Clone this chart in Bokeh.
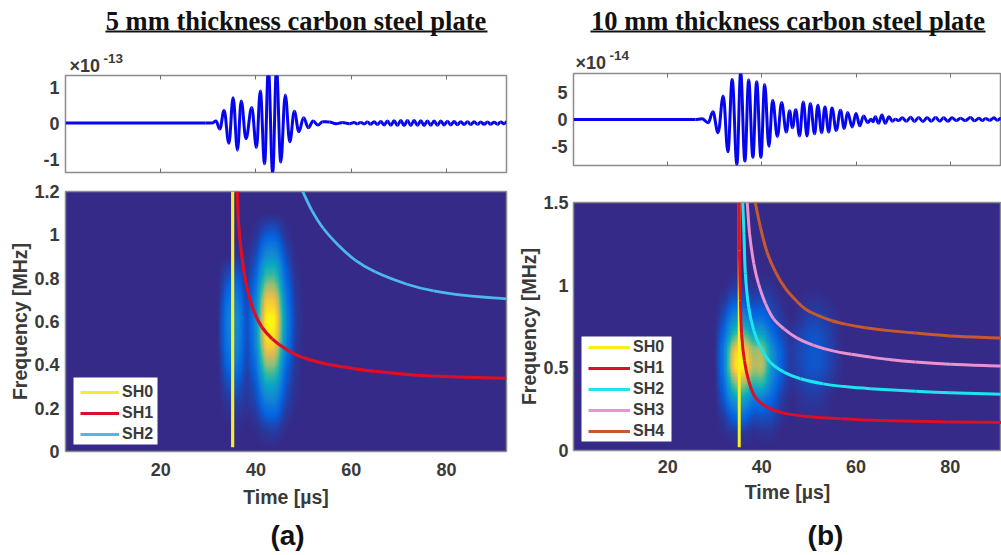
from bokeh.plotting import figure
from bokeh.layouts import row, column
from bokeh.models import (LinearAxis, FixedTicker, Range1d, LinearColorMapper, Legend, LegendItem)
from bokeh.core.properties import value
from bokeh.embed import file_html
from bokeh.resources import INLINE
import numpy as np

# ---------- data ----------
XMAX_A = 92.6
XMAX_B = 90.9

titles = ["5 mm thickness carbon steel plate", "10 mm thickness carbon steel plate"]
exponents = ["-13", "-14"]
tags = ["(a)", "(b)"]

# waveforms: the successive crests and troughs
wave_a_t = [0, 29.35, 30.75, 31.6, 32.4, 33.3, 34.3, 35.2, 36.1, 36.9, 37.9, 39.1, 40.1, 40.9, 41.8, 42.6, 43.5,
            44.3, 45.2, 46.15, 47.1, 48.05, 49.0, 50.0, 51.0, 52.0, 53.0, 54.0,
            55.4, 56.8, 58.2, 59.6, 60.6, 61.3, 62.0, 62.7, 63.4, 64.1, 64.8, 65.5, 66.2, 66.9, 67.6, 68.3, 69.0,
            69.7, 70.4, 71.1, 71.8, 72.5, 73.2, 73.9, 74.6, 75.3, 76.0, 76.7, 77.4, 78.1, 78.8, 79.5, 80.2, 80.9,
            81.6, 82.3, 83.0, 83.7, 84.4, 85.1, 85.8, 86.5, 87.2, 87.9, 88.6, 89.3, 90.0, 90.7, 91.4, 92.1, 92.6]
wave_a_v = [0, 0, 0, .055, -.165, .35, -.56, .70, -.75, .61, -.43, .43, -.68, .89, -1.13, 1.5, -1.38,
            1.5, -1.08, .78, -.52, .33, -.24, .15, -.13, .055, -.055, .04,
            .03, -.02, .015, -.015, .015, -.02, .02, -.025, .03, -.03, .035, -.04, .045, -.05, .055, -.06, .065,
            -.065, .07, -.07, .07, -.065, .07, -.06, .065, -.065, .06, -.06, .055, -.06, .055, -.05, .05, -.05,
            .045, -.045, .04, -.04, .035, -.04, .035, -.035, .03, -.03, .03, -.03, .025, -.03, .03, -.02, .03]

wave_b_t = [0, 25.9, 27.3, 28.6, 29.6, 30.7, 31.8, 32.8, 33.7, 34.7, 35.5, 36.4, 37.2, 38.1, 38.9, 39.8, 40.6, 41.5,
            42.3, 43.3, 44.2, 45.2, 45.9, 46.5, 47.2, 48.0, 48.8, 49.6, 50.3, 51.2, 51.9, 52.7, 53.4, 54.2, 54.9,
            55.8, 56.7, 57.5, 58.2, 59.2, 60.0, 60.8, 61.6, 62.5, 63.2, 63.6, 64.1, 64.8, 65.5, 66.2, 67.0, 67.7,
            68.4, 69.1, 69.8, 70.7, 71.6, 72.4, 73.3, 74.2, 75.1, 76.0, 76.9, 77.8, 78.6, 79.5, 80.4, 81.3, 82.2,
            83.2, 84.3, 85.2, 86.1, 86.8, 87.5, 88.4, 89.3, 90.0, 90.7, 90.9]
wave_b_v = [0, 0, .12, -.6, 1.4, -2.4, 4.3, -5.9, 7.3, -8.2, 8.6, -7.6, 7.2, -6.9, 6.9, -6.9, 6.4, -4.9,
            3.5, -3.1, 3.1, -2.3, 1.6, -1.5, 1.8, -3.0, 3.2, -3.0, 2.9, -2.6, 2.6, -2.4, 2.3, -2.3, 2.1,
            -2.0, 1.7, -1.65, 1.3, -1.35, 1.1, -1.15, .65, -.55, .05, -.4, .5, -.7, .8, -.7, .5, -.3,
            .05, -.2, .3, -.3, .4, -.35, .35, -.35, .3, -.3, .35, -.3, .3, -.3, .3, -.2, .25,
            -.2, .35, -.25, .25, -.2, .2, -.15, .3, -.15, .2, .1]

# spectrogram cells, read by eye on a coarse time / frequency grid
grid_a_t = [32, 34, 36, 38, 40, 42, 44, 46, 48, 50]
grid_a_f = [0, .1, .2, .3, .4, .5, .6, .7, .8, .9, 1.0, 1.1]
grid_a = [
    [0, 0, 0, 0, 0, 0, 0, 0, 0, 0],
    [0, 0, .01, 0, .01, .04, .05, .01, 0, 0],
    [0, .02, .04, .02, .05, .18, .19, .05, .01, 0],
    [0, .07, .10, .03, .10, .36, .35, .10, .02, 0],
    [0, .15, .20, .04, .17, .62, .60, .16, .03, 0],
    [.01, .20, .26, .05, .24, .88, .85, .24, .04, 0],
    [.01, .22, .28, .05, .27, .97, .95, .27, .05, 0],
    [0, .17, .22, .04, .22, .80, .78, .22, .04, 0],
    [0, .08, .12, .02, .14, .50, .50, .15, .02, 0],
    [0, 0, .02, .01, .07, .27, .28, .08, .01, 0],
    [0, 0, 0, 0, .02, .10, .11, .02, 0, 0],
    [0, 0, 0, 0, 0, 0, 0, 0, 0, 0],
]
grid_b_t = [30, 32, 34, 36, 38, 40, 42, 44, 46, 48, 50, 52, 54, 56, 58]
grid_b_f = [0, .1, .2, .3, .4, .5, .6, .7, .8, .9, 1.0, 1.1]
grid_b = [
    [0, 0, 0, 0, 0, 0, 0, 0, 0, 0, 0, 0, 0, 0, 0],
    [0, .01, .03, .03, .01, .02, .02, 0, 0, 0, 0, 0, 0, 0, 0],
    [0, .04, .13, .15, .07, .08, .07, .02, 0, .01, .01, .01, .01, 0, 0],
    [0, .10, .30, .33, .18, .18, .12, .04, 0, .02, .03, .03, .01, 0, 0],
    [.01, .15, .55, .62, .42, .45, .20, .08, .02, .04, .06, .06, .03, .01, 0],
    [.01, .20, .85, .95, .62, .66, .28, .11, .03, .06, .09, .09, .06, .02, 0],
    [.01, .20, .78, .85, .58, .62, .26, .11, .03, .06, .09, .09, .06, .02, 0],
    [.01, .14, .45, .50, .33, .33, .15, .06, .02, .05, .08, .08, .05, .01, 0],
    [0, .08, .25, .26, .14, .15, .08, .03, 0, .02, .05, .05, .03, .01, 0],
    [0, .03, .10, .10, .06, .07, .04, .01, 0, .01, .02, .02, .01, 0, 0],
    [0, 0, .03, .03, .01, .02, .01, 0, 0, 0, 0, 0, 0, 0, 0],
    [0, 0, 0, 0, 0, 0, 0, 0, 0, 0, 0, 0, 0, 0, 0],
]

sh0_a_t = [35.1, 35.1]; sh0_a_f = [.02, 1.2]
sh1_a_t = [36.07, 36.35, 37.05, 38.1, 39.5, 41.25, 43.4, 46.2, 49.7, 54.6, 60.2, 65.1, 73.8, 80.8, 92.6]
sh1_a_f = [1.2, 1.05, .897, .758, .651, .574, .52, .474, .435, .405, .384, .37, .352, .345, .338]
sh2_a_t = [49.8, 51.75, 54.2, 57.35, 60.9, 65.1, 71.7, 77.3, 84.3, 92.6]
sh2_a_f = [1.2, 1.112, 1.028, .951, .882, .828, .772, .741, .719, .704]

sh0_b_t = [35.2, 35.2]; sh0_b_f = [.02, 1.5]
sh1_b_t = [35.2, 35.24, 35.45, 35.7, 36.3, 37.2, 38.6, 41.1, 44.7, 50.3, 56.7, 65.5, 79.7, 90.9]
sh1_b_f = [1.5, 1.21, .907, .706, .544, .423, .322, .262, .226, .204, .192, .181, .173, .169]
sh2_b_t = [35.95, 36.2, 36.5, 37.2, 38.3, 39.7, 41.8, 44.7, 48.2, 53.1, 58.1, 63, 72.6, 80, 90.9]
sh2_b_f = [1.5, 1.31, 1.07, .867, .726, .625, .534, .474, .434, .403, .385, .374, .358, .349, .34]
sh3_b_t = [36.9, 37.4, 38.3, 39.3, 40.8, 42.5, 44.7, 47.5, 51, 55.3, 59, 63, 67, 72.6, 80, 90.9]
sh3_b_f = [1.5, 1.31, 1.13, 1.008, .887, .796, .736, .68, .636, .601, .582, .565, .55, .535, .522, .511]
sh4_b_t = [38.6, 39.7, 41.1, 42.9, 45, 47.5, 49.3, 51.5, 54.9, 58, 62, 67, 72.6, 80, 90.9]
sh4_b_f = [1.5, 1.35, 1.2, 1.08, .98, .9, .855, .822, .785, .763, .743, .725, .71, .693, .68]

time_ticks = [20, 40, 60, 80]

# ---------- style ----------
TXT = "#3a3a3a"
FONT = "Liberation Sans"
BG = "#352A87"
stops = ["#352A87", "#0363E1", "#1485D4", "#06A7C6", "#38B99E", "#92BF73", "#D9BA56", "#FCCE2E", "#F9FB0E"]
rgb = np.array([[int(s[i:i + 2], 16) for i in (1, 3, 5)] for s in stops], float)
palette = ["#%02x%02x%02x" % tuple(int(round(np.interp(q, np.linspace(0, 1, 9), rgb[:, c]))) for c in range(3))
           for q in np.linspace(0, 1, 192)]
mapper = LinearColorMapper(palette=palette, low=0, high=1)


def resample(grid, steps=12):
    """Display resampling of the read cells, like a renderer's smooth image mode."""
    g = np.array(grid, dtype=float)
    ny, nx = g.shape
    xi = np.linspace(0, nx - 1, (nx - 1) * steps + 1)
    yi = np.linspace(0, ny - 1, (ny - 1) * steps + 1)
    g = np.array([np.interp(xi, np.arange(nx), r) for r in g])
    g = np.array([np.interp(yi, np.arange(ny), c) for c in g.T]).T
    k = np.ones(steps // 2 + 1) / (steps // 2 + 1)
    g = np.array([np.convolve(r, k, "same") for r in g])
    g = np.array([np.convolve(c, k, "same") for c in g.T]).T
    return g / g.max()


def crest_segments(t, v):
    t = np.array(t, float); v = np.array(v, float)
    dx = np.diff(t)
    return dict(x0=t[:-1], y0=v[:-1], x1=t[1:], y1=v[1:], cx0=t[:-1] + .38 * dx, cy0=v[:-1], cx1=t[1:] - .38 * dx, cy1=v[1:])


def curve_segments(t, f, kx, ky):
    p = np.c_[np.array(t, float) * kx, np.array(f, float) * ky]
    d = np.hypot(*np.diff(p, axis=0).T)
    T = np.zeros_like(p)
    T[1:-1] = p[2:] - p[:-2]
    T[0] = p[1] - p[0]
    T[-1] = p[-1] - p[-2]
    T = T / np.hypot(*T.T)[:, None]
    c0 = p[:-1] + T[:-1] * d[:, None] / 3
    c1 = p[1:] - T[1:] * d[:, None] / 3
    return dict(x0=p[:-1, 0] / kx, y0=p[:-1, 1] / ky, x1=p[1:, 0] / kx, y1=p[1:, 1] / ky,
                cx0=c0[:, 0] / kx, cy0=c0[:, 1] / ky, cx1=c1[:, 0] / kx, cy1=c1[:, 1] / ky)


def ax_style(ax):
    ax.major_label_text_font = FONT
    ax.major_label_text_font_style = "bold"
    ax.major_label_text_font_size = "18px"
    ax.major_label_text_color = TXT
    ax.axis_label_text_font = FONT
    ax.axis_label_text_font_style = "bold"
    ax.axis_label_text_font_size = "19.5px"
    ax.axis_label_text_color = TXT
    ax.minor_tick_line_color = None
    ax.major_tick_out = 0
    ax.axis_line_color = None


def base(w, h, xmax, y0, y1, left, right, top, bottom):
    p = figure(width=w, height=h, x_range=Range1d(0, xmax), y_range=Range1d(y0, y1),
               toolbar_location=None, output_backend="svg",
               min_border_left=left, min_border_right=right, min_border_top=top, min_border_bottom=bottom)
    p.grid.visible = False
    p.outline_line_color = "#8c8c8c"
    p.outline_line_width = 1.5
    p.border_fill_color = "white"
    return p


def wave(w, h, xmax, ylim, yticks, ylabels, t, v, left, right, top, bottom):
    p = base(w, h, xmax, -ylim[0], ylim[1], left, right, top, bottom)
    p.bezier(line_color="#0505EE", line_width=3, **crest_segments(t, v))
    p.xaxis.ticker = FixedTicker(ticks=time_ticks)
    p.xaxis.major_label_text_font_size = "0px"
    p.xaxis.major_label_text_color = None
    p.xaxis.major_label_standoff = 0
    p.xaxis.major_tick_in = 4
    p.xaxis.major_tick_out = 0
    p.xaxis.major_tick_line_color = "#707070"
    p.xaxis.axis_line_color = None
    p.xaxis.minor_tick_line_color = None
    top_ax = LinearAxis(ticker=FixedTicker(ticks=time_ticks), major_label_text_font_size="0px",
                        major_label_text_color=None, major_label_standoff=0, major_tick_in=4, major_tick_out=0,
                        major_tick_line_color="#707070", axis_line_color=None, minor_tick_line_color=None)
    p.add_layout(top_ax, "above")
    ax_style(p.yaxis[0])
    p.yaxis.major_tick_line_color = None
    p.yaxis.major_label_standoff = 6
    p.yaxis.ticker = FixedTicker(ticks=yticks)
    p.yaxis.major_label_overrides = dict(zip(yticks, ylabels))
    return p


def spec(w, h, xmax, ymax, yticks, ylabels, grid, gt, gf, curves, left, right, top, bottom,
         box, legend_xy, gw, ysoff, xsoff, xlsoff):
    p = base(w, h, xmax, 0, ymax, left, right, top, bottom)
    p.background_fill_color = BG
    dt = gt[1] - gt[0]
    df = gf[1] - gf[0]
    inset = .006 * ymax
    p.image(image=[resample(grid)], x=gt[0], y=gf[0] + inset, dw=(len(gt) - 1) * dt, dh=(len(gf) - 1) * df - inset,
            color_mapper=mapper)
    kx = (w - left - right) / xmax
    ky = (h - top - bottom) / ymax
    items = []
    for name, t, f, col, lw in curves:
        if len(t) == 2:
            r = p.line(t, f, line_color=col, line_width=lw)
        else:
            p.bezier(line_color=col, line_width=lw, **curve_segments(t, f, kx, ky))
            r = p.line(t[:1], f[:1], line_color=col, line_width=lw)
        items.append(LegendItem(label=name, renderers=[r]))
    # legend plate: box = left, right, bottom, top in px from the frame's lower left corner
    p.quad(left=box[0] / kx, right=box[1] / kx, bottom=box[2] / ky, top=box[3] / ky, fill_color="white", line_color=None)
    lg = Legend(items=items, location=legend_xy, background_fill_alpha=0,
                border_line_color=None, label_text_font=FONT, label_text_font_style="bold",
                label_text_font_size="16px", label_text_color=TXT, glyph_width=gw, glyph_height=16,
                spacing=3, padding=5, margin=0, label_standoff=3, label_height=16)
    p.add_layout(lg, "center")
    p.xaxis.ticker = FixedTicker(ticks=time_ticks)
    p.yaxis.ticker = FixedTicker(ticks=yticks)
    p.yaxis.major_label_overrides = dict(zip(yticks, ylabels))
    for ax in (p.xaxis[0], p.yaxis[0]):
        ax_style(ax)
        ax.major_tick_in = 0
        ax.major_tick_line_color = None
    p.xaxis.axis_label = "Time [\u00b5s]"
    p.yaxis.axis_label = "Frequency [MHz]"
    p.xaxis.major_label_standoff = xsoff
    p.xaxis.axis_label_standoff = xlsoff
    p.yaxis.major_label_standoff = ysoff
    p.yaxis.axis_label_standoff = 0
    return p


def strip(x0, w, h):
    """Band whose x and y axes run in page pixels, for the texts outside the panels."""
    p = figure(width=w, height=h, x_range=Range1d(x0, x0 + w), y_range=Range1d(h, 0), toolbar_location=None,
               output_backend="svg", min_border=0, outline_line_color=None)
    p.axis.visible = False
    p.grid.visible = False
    return p


def header(x0, w, h, name, cx, u0, u1, exp, ex, ey):
    p = strip(x0, w, h)
    p.text(x=[cx], y=[20], text=[name], text_font=value("Liberation Serif"), text_font_style="bold",
           text_font_size="26.5px", text_color="#111111", text_align="center", text_baseline="middle")
    p.segment(x0=[u0], x1=[u1], y0=[31], y1=[31], line_color="#111111", line_width=2)
    sans = dict(text_font=value(FONT), text_font_style="bold", text_color=TXT, text_baseline="middle")
    p.text(x=[ex], y=[ey], text=["\u00d710"], text_font_size="18px", **sans)
    p.text(x=[ex + 34], y=[ey - 7], text=[exp], text_font_size="13.5px", **sans)
    return p


def footer(x0, w, h, name, cx):
    p = strip(x0, w, h)
    p.text(x=[cx], y=[20], text=[name], text_font=value(FONT), text_font_style="bold", text_font_size="28px",
           text_color="#111111", text_align="center", text_baseline="middle")
    return p


# frame edges on the page: left column x 65-506, right column x 573-1001
a_top = wave(515, 104, XMAX_A, (1.37, 1.32), [-1, 0, 1], ["-1", "0", "1"], wave_a_t, wave_a_v, 65, 9, 1, 6)
b_top = wave(486, 106, XMAX_B, (8.4, 8.4), [-5, 0, 5], ["-5", "0", "5"], wave_b_t, wave_b_v, 58, 0, 1, 13)

a_bot = spec(515, 337, XMAX_A, 1.2, [0, .2, .4, .6, .8, 1, 1.2], ["0", "0.2", "0.4", "0.6", "0.8", "1", "1.2"],
             grid_a, grid_a_t, grid_a_f,
             [("SH0", sh0_a_t, sh0_a_f, "#F2EE2C", 3.2), ("SH1", sh1_a_t, sh1_a_f, "#DC0F26", 3.2),
              ("SH2", sh2_a_t, sh2_a_f, "#4DB8EA", 2.8)],
             65, 9, 13, 64, (8, 92, 7, 74), (15, 8), 39, 6, 11, 7)
b_bot = spec(486, 337, XMAX_B, 1.5, [0, .5, 1, 1.5], ["0", "0.5", "1", "1.5"],
             grid_b, grid_b_t, grid_b_f,
             [("SH0", sh0_b_t, sh0_b_f, "#F5F01E", 3), ("SH1", sh1_b_t, sh1_b_f, "#DC0F26", 3),
              ("SH2", sh2_b_t, sh2_b_f, "#1FE4F0", 3), ("SH3", sh3_b_t, sh3_b_f, "#E892D2", 3),
              ("SH4", sh4_b_t, sh4_b_f, "#C8592C", 3)],
             58, 0, 24, 65, (8, 98, 9, 114), (15, 10), 42, 5, 9, 5)

left_col = column(header(0, 515, 74, titles[0], 295.5, 105, 487, exponents[0], 69, 65),
                  column(a_top, a_bot, spacing=0), footer(0, 515, 40, tags[0], 287), spacing=0)
right_col = column(header(515, 486, 72, titles[1], 787.5, 590, 985, exponents[1], 575, 62),
                   column(b_top, b_bot, spacing=0), footer(515, 486, 40, tags[1], 825), spacing=0)
page = row(left_col, right_col, spacing=0)
open("out.html", "w").write(file_html(page, INLINE))
